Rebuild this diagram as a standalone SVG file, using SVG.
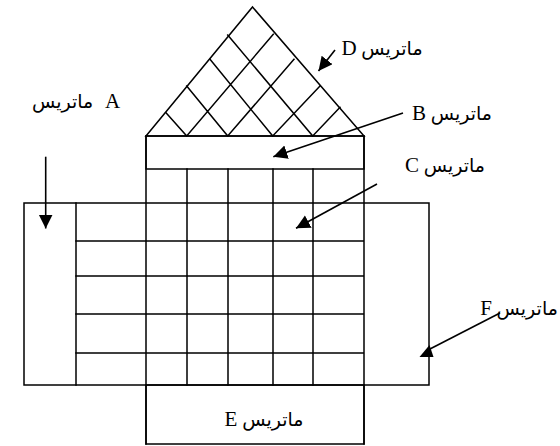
<svg xmlns="http://www.w3.org/2000/svg" width="560" height="446" viewBox="0 0 560 446">
<style>
.ln{stroke:#000;stroke-width:1.5;fill:none;stroke-linecap:square}
.lbl{font-family:"Liberation Serif","DejaVu Sans",serif;font-size:19px;fill:#000;text-anchor:middle}
.lat{font-size:21px}
.ar{stroke:#000;stroke-width:1.6;fill:none;marker-end:url(#ah)}
</style>
<defs>
<marker id="ah" markerUnits="userSpaceOnUse" markerWidth="16" markerHeight="16" refX="14" refY="7" orient="auto">
<path d="M0,0 L14,7 L0,14 Z" fill="#000"/>
</marker>
</defs>
<rect width="560" height="446" fill="#fff"/>
<g id="nodeF">
<rect class="ln" x="24" y="203" width="405" height="182"/>
<text class="lbl" x="519" y="315" direction="rtl" unicode-bidi="embed">ماتریس <tspan class="lat">F</tspan></text>
</g>
<g id="nodeA">
<line class="ln" x1="76" y1="203" x2="76" y2="385"/>
<text class="lbl" x="76" y="108" direction="ltr">ماتریس <tspan class="lat" dx="7">A</tspan></text>
</g>
<g id="nodeC">
<path class="ln" d="M76,241H364M76,276H364M76,314H364M76,353H364M187,169V385M228,169V385M273,169V385M313,169V385M146,136V444M364,136V444"/>
<text class="lbl" x="445" y="172" direction="rtl" unicode-bidi="embed">ماتریس <tspan class="lat">C</tspan></text>
</g>
<g id="nodeB">
<rect class="ln" x="146" y="136" width="218" height="33"/>
<text class="lbl" x="452" y="120" direction="rtl" unicode-bidi="embed">ماتریس <tspan class="lat">B</tspan></text>
</g>
<g id="nodeD">
<path class="ln" d="M146,136L252.5,7L364,136Z"/>
<path class="ln" d="M186.7,136L166,112.7M227.7,136L186.7,86M272.7,136L210,59.3M312.7,136L227.7,35M186.7,136L273.3,34.3M227.7,136L294,59.3M272.7,136L320,86M312.7,136L340,107.3"/>
<text class="lbl" x="382" y="55" direction="rtl" unicode-bidi="embed">ماتریس <tspan class="lat">D</tspan></text>
</g>
<g id="nodeE">
<rect class="ln" x="146" y="385" width="218" height="59"/>
<text class="lbl" x="264" y="426" direction="rtl" unicode-bidi="embed">ماتریس <tspan class="lat">E</tspan></text>
</g>
<g id="connectors">
<line class="ar" x1="45.7" y1="156.7" x2="45.7" y2="228.5"/>
<line class="ar" x1="335" y1="50" x2="318.5" y2="71"/>
<line class="ar" x1="403" y1="113" x2="273.3" y2="156.7"/>
<line class="ar" x1="377" y1="184" x2="296" y2="228.3"/>
<line stroke="#000" stroke-width="1.6" x1="500" y1="313" x2="428" y2="350"/>
<polygon points="419.5,357 433.5,357 429.5,345" fill="#000"/>
</g>
</svg>
